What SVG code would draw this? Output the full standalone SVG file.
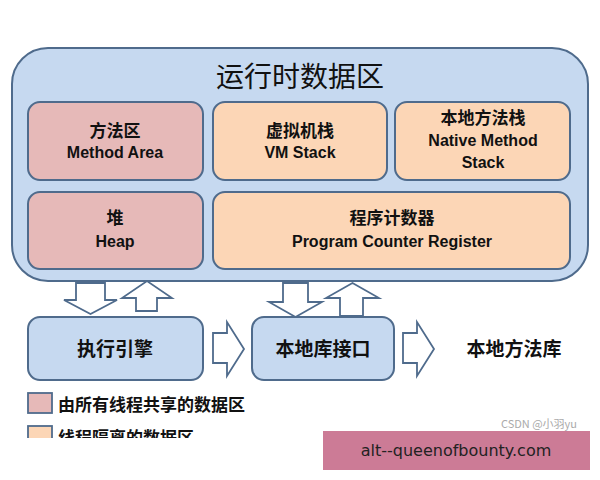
<svg xmlns="http://www.w3.org/2000/svg" width="600" height="480" viewBox="0 0 600 480">
<style>
.outer{fill:#c6d9f0;stroke:#4f6b8c;stroke-width:2}
.pink{fill:#e6b9b8;stroke:#4f6b8c;stroke-width:2}
.orange{fill:#fcd6b6;stroke:#4f6b8c;stroke-width:2}
.blue{fill:#c6d9f0;stroke:#4f6b8c;stroke-width:2}
.arr{fill:#ffffff;stroke:#4f6b8c;stroke-width:1.8;stroke-linejoin:miter}
.zh{font-family:"Noto Sans CJK SC","Liberation Sans",sans-serif;font-weight:bold;fill:#111;text-anchor:middle}
.en{font-family:"Liberation Sans","Noto Sans",sans-serif;font-weight:bold;fill:#111;text-anchor:middle;font-size:16px}
</style>
<defs>
<clipPath id="cut"><rect x="0" y="0" width="600" height="438"/></clipPath>
</defs>
<rect width="600" height="480" fill="#ffffff"/>
<g id="runtime">
<rect class="outer" x="12" y="48" width="576" height="233" rx="36"/>
<text x="300" y="87" font-family="Noto Sans CJK SC,sans-serif" font-size="28" fill="#111" text-anchor="middle">运行时数据区</text>
</g>
<g id="method-area">
<rect class="pink" x="28" y="102" width="175" height="78" rx="12"/>
<text class="zh" x="115" y="137" font-size="17">方法区</text>
<text class="en" x="115" y="158">Method Area</text>
</g>
<g id="vm-stack">
<rect class="orange" x="213" y="102" width="174" height="78" rx="12"/>
<text class="zh" x="300" y="137" font-size="17">虚拟机栈</text>
<text class="en" x="300" y="158">VM Stack</text>
</g>
<g id="native-stack">
<rect class="orange" x="395" y="102" width="175" height="78" rx="12"/>
<text class="zh" x="483" y="124" font-size="17">本地方法栈</text>
<text class="en" x="483" y="146">Native Method</text>
<text class="en" x="483" y="168">Stack</text>
</g>
<g id="heap">
<rect class="pink" x="28" y="192" width="175" height="77" rx="12"/>
<text class="zh" x="115" y="224" font-size="17">堆</text>
<text class="en" x="115" y="247">Heap</text>
</g>
<g id="pc-register">
<rect class="orange" x="213" y="192" width="357" height="77" rx="12"/>
<text class="zh" x="392" y="224" font-size="17">程序计数器</text>
<text class="en" x="392" y="247">Program Counter Register</text>
</g>
<g id="exec-engine">
<rect class="blue" x="28" y="317" width="175" height="63" rx="12"/>
<text class="zh" x="115" y="356" font-size="19">执行引擎</text>
</g>
<g id="native-interface">
<rect class="blue" x="252" y="317" width="142" height="63" rx="12"/>
<text class="zh" x="323" y="356" font-size="19">本地库接口</text>
</g>
<g id="native-lib">
<text class="zh" x="514" y="356" font-size="19">本地方法库</text>
</g>
<g id="connectors">
<polygon class="arr" points="76,283 105,283 105,300 117,300 90.5,314 64,300 76,300"/>
<polygon class="arr" points="136,311 157,311 157,298 172,298 147,281 122,298 136,298"/>
<polygon class="arr" points="283,283 308,283 308,302 322,302 295.5,317 269,302 283,302"/>
<polygon class="arr" points="340,316 363,316 363,298 379,298 352.5,283 326,298 340,298"/>
<polygon class="arr" points="213,333 227,333 227,322 244,349 227,376 227,363 213,363"/>
<polygon class="arr" points="403,333 417,333 417,322 434,349 417,376 417,363 403,363"/>
</g>
<g id="legend">
<rect x="28" y="393" width="24" height="20" fill="#e6b9b8" stroke="#4f6b8c" stroke-width="1.8"/>
<text x="58" y="411" font-family="Noto Sans CJK SC,sans-serif" font-weight="bold" font-size="17" fill="#111">由所有线程共享的数据区</text>
<g clip-path="url(#cut)">
<rect x="28" y="426" width="24" height="20" fill="#fcd6b6" stroke="#4f6b8c" stroke-width="1.8"/>
<text x="58" y="444" font-family="Noto Sans CJK SC,sans-serif" font-weight="bold" font-size="17" fill="#111">线程隔离的数据区</text>
</g>
</g>
<text x="577" y="428" font-family="Noto Sans CJK SC,sans-serif" font-size="11" fill="#aaaaaa" text-anchor="end">CSDN @小羽yu</text>
<g id="banner">
<rect x="323" y="431" width="267" height="39" fill="#cc7b96"/>
<text x="456" y="456" font-family="DejaVu Sans,sans-serif" font-size="16" fill="#222" text-anchor="middle">alt--queenofbounty.com</text>
</g>
</svg>
